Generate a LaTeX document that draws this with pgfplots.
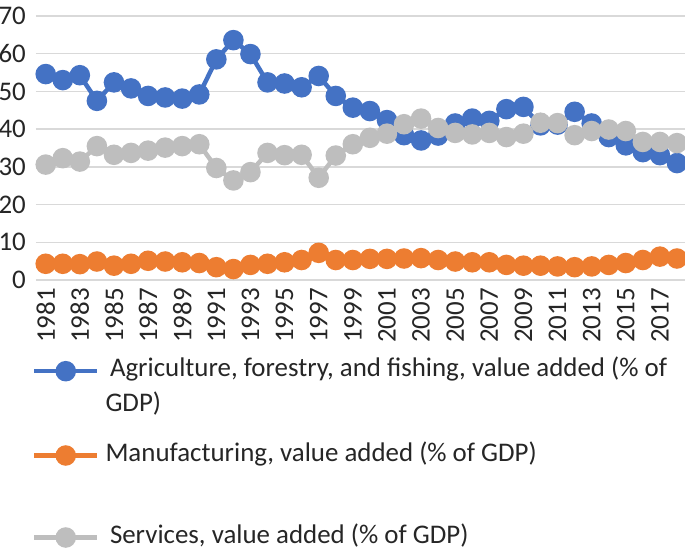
\documentclass[border=0pt]{standalone}
\usepackage{pgfplots}
\pgfplotsset{compat=1.18}
\usepackage{fontspec}
\setmainfont{Carlito}
\definecolor{cblue}{HTML}{4472C4}
\definecolor{corange}{HTML}{ED7D31}
\definecolor{cgray}{HTML}{BEBEBE}
\definecolor{cgrid}{HTML}{D9D9D9}
\definecolor{ctext}{HTML}{262626}
\pgfplotstableread{
year agri manu serv
1981 54.6 4.3 30.6
1982 53.0 4.3 32.3
1983 54.3 4.2 31.4
1984 47.5 4.9 35.5
1985 52.4 3.8 33.2
1986 50.8 4.3 33.7
1987 48.8 5.1 34.3
1988 48.4 4.9 35.1
1989 48.1 4.7 35.5
1990 49.2 4.5 36.0
1991 58.5 3.4 29.7
1992 63.6 2.9 26.4
1993 59.9 4.0 28.6
1994 52.4 4.3 33.7
1995 52.1 4.7 33.1
1996 51.1 5.3 33.2
1997 54.1 7.2 27.1
1998 48.8 5.3 33.0
1999 45.7 5.3 36.0
2000 44.8 5.6 37.7
2001 42.4 5.6 38.8
2002 38.4 5.7 41.3
2003 37.0 5.8 42.8
2004 38.3 5.3 40.3
2005 41.5 4.9 39.0
2006 42.8 4.7 38.6
2007 42.2 4.7 39.0
2008 45.3 4.0 37.9
2009 45.9 3.8 38.8
2010 41.0 3.8 41.7
2011 41.2 3.6 41.6
2012 44.6 3.4 38.4
2013 41.5 3.6 39.5
2014 37.9 4.0 39.9
2015 35.7 4.5 39.5
2016 33.9 5.3 36.6
2017 33.1 6.2 36.6
2018 31.0 5.7 36.3
}\datatable
\pgfplotsset{
  legaxis/.style={scale only axis, width=649bp, height=264bp, hide axis,
    xmin=0, xmax=1, ymin=0, ymax=1,
    legend image code/.code={\draw[mark repeat=2,mark phase=2] plot coordinates {(0bp,5.5bp) (31.5bp,5.5bp) (63bp,5.5bp)};},
    legend style={draw=none, fill=none, inner sep=0pt, outer sep=0pt,
      at={(0,0)}, anchor=north west, xshift=-4bp,
      column sep=10.5bp,
      font=\fontsize{27}{32}\selectfont, text=ctext,
      nodes={inner sep=0pt, outer sep=0pt, text height=20bp, text depth=8bp},
      cells={anchor=base west}},
  },
  ser/.style={#1, line width=4.5bp, mark=*, mark size=8bp, mark options={fill=#1, draw=#1}},
}
\begin{document}
\begin{tikzpicture}
\begin{axis}[
  scale only axis,
  width=649bp, height=264bp,
  xmin=1980.43, xmax=2018.47,
  ymin=0, ymax=70,
  clip=false,
  axis line style={draw=none},
  major tick length=0pt,
  xtick={1981,1983,...,2017},
  ytick={0,10,...,70},
  ymajorgrids,
  grid style={cgrid, line width=1.4bp},
  /pgf/number format/assume math mode=true,
  /pgf/number format/1000 sep={},
  tick label style={font=\fontsize{27}{32}\selectfont, text=ctext, inner sep=0pt},
  xticklabel style={rotate=90, anchor=east},
  xticklabel shift=8bp,
  yticklabel shift=10bp,
]
\addplot[ser=cblue] table[x=year, y=agri] {\datatable};
\addplot[ser=corange] table[x=year, y=manu] {\datatable};
\addplot[ser=cgray] table[x=year, y=serv] {\datatable};
\coordinate (o) at (rel axis cs:0,0);
\end{axis}
% legend rows, each in its own hidden axis
\begin{axis}[legaxis, legend style={yshift=-76.7bp}]
\addlegendimage{ser=cblue}
\addlegendentry{Agriculture, forestry, and fishing, value added (\% of}
\end{axis}
\begin{axis}[legaxis, legend style={yshift=-111.3bp},
  legend image code/.code={\path[draw=none, fill=none, opacity=0] (0bp,0bp) -- (63bp,0bp);}]
\addlegendimage{white, opacity=0, mark=none}
\addlegendentry{GDP)}
\end{axis}
\begin{axis}[legaxis, legend style={yshift=-161bp, column sep=6bp}]
\addlegendimage{ser=corange}
\addlegendentry{Manufacturing, value added (\% of GDP)}
\end{axis}
\begin{axis}[legaxis, legend style={yshift=-243bp}]
\addlegendimage{ser=cgray}
\addlegendentry{Services, value added (\% of GDP)}
\end{axis}
\pgfresetboundingbox
\path (o) ++(-36bp,280bp) rectangle ++(685bp,-550bp);
\end{tikzpicture}
\end{document}
